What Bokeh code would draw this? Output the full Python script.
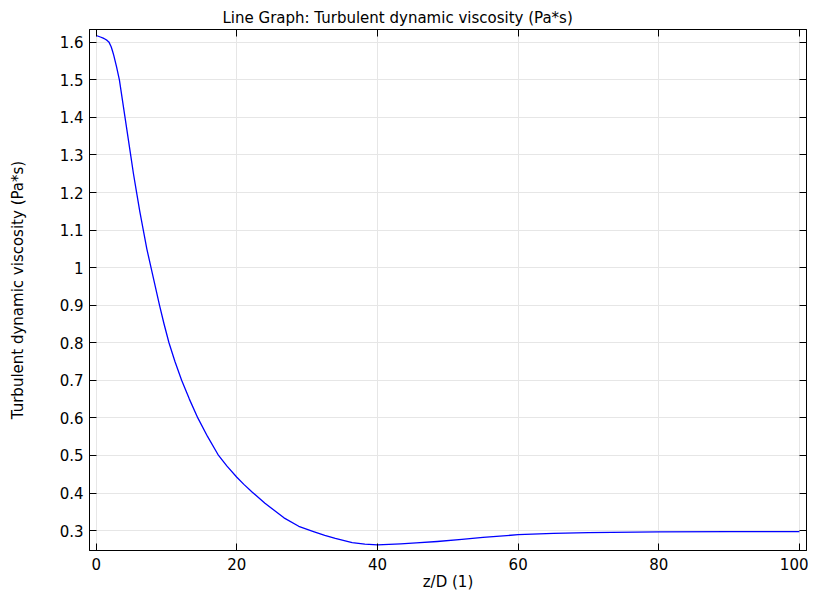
from bokeh.plotting import figure
from bokeh.models import LinearAxis, FixedTicker, CustomJSTickFormatter, Range1d, Title
from bokeh.embed import file_html
from bokeh.resources import INLINE

# data
z_over_d = [0, 0.6, 1.0, 1.3, 1.55, 1.8, 2.13, 2.3, 2.5, 2.89, 3.3, 3.7, 4.1, 4.5, 4.9,
            5.3, 5.75, 6.2, 6.7, 7.2, 7.8, 8.4, 9.0, 9.65, 10.35, 11.2, 12.15, 13.25,
            14.45, 15.85, 17.4, 18.6, 20, 21.0, 22.2, 24, 25.3, 26.7, 28.8, 30.9, 32.5,
            34.0, 36.4, 38.2, 40, 43.3, 45.5, 48.5, 52, 55, 60, 65, 70, 80, 90, 100]
viscosity = [1.618, 1.614, 1.611, 1.608, 1.605, 1.601, 1.588, 1.578, 1.565, 1.535, 1.5,
             1.45, 1.4, 1.35, 1.3, 1.25, 1.2, 1.15, 1.1, 1.05, 1.0, 0.95, 0.9, 0.85, 0.8,
             0.75, 0.7, 0.65, 0.6, 0.55, 0.5, 0.4715, 0.442, 0.423, 0.402, 0.373, 0.354,
             0.334, 0.3115, 0.2975, 0.2875, 0.2795, 0.268, 0.2638, 0.262, 0.2647, 0.2672,
             0.271, 0.2765, 0.282, 0.289, 0.2925, 0.2947, 0.2965, 0.297, 0.297]
x_ticks = [0, 20, 40, 60, 80, 100]
y_ticks = [0.3, 0.4, 0.5, 0.6, 0.7, 0.8, 0.9, 1.0, 1.1, 1.2, 1.3, 1.4, 1.5, 1.6]

FONT = "DejaVu Sans"
FS = "15px"
TXT = "#000000"

p = figure(width=808, height=593, output_backend="svg", toolbar_location=None,
           x_range=Range1d(-0.95, 101.0), y_range=Range1d(0.247, 1.634),
           min_border_left=89, min_border_right=2, min_border_top=29, min_border_bottom=42)
p.title = Title(text="Line Graph: Turbulent dynamic viscosity (Pa*s)", align="left",
                offset=133, text_font=FONT, text_font_size=FS, text_font_style="normal",
                text_color=TXT, standoff=6)
p.outline_line_color = "black"
p.outline_line_width = 1
p.background_fill_color = "white"
p.border_fill_color = "white"

p.line(z_over_d, viscosity, line_color="#0000ff", line_width=1.3, line_join="round")

fmt = CustomJSTickFormatter(code="var s = tick.toFixed(1); return s.endsWith('.0') ? s.slice(0, -2) : s;")
blank = CustomJSTickFormatter(code="return '';")

for ax in p.xaxis:
    ax.ticker = FixedTicker(ticks=x_ticks)
    ax.axis_label = "z/D (1)"
for ax in p.yaxis:
    ax.ticker = FixedTicker(ticks=y_ticks)
    ax.formatter = fmt
    ax.axis_label = "Turbulent dynamic viscosity (Pa*s)"

for ax in p.xaxis + p.yaxis:
    ax.major_tick_in = 7
    ax.major_tick_out = 0
    ax.minor_tick_line_color = None
    ax.axis_line_color = "black"
    ax.major_tick_line_color = "black"
    ax.major_label_text_font = FONT
    ax.major_label_text_font_size = FS
    ax.major_label_text_color = TXT
    ax.axis_label_text_font = FONT
    ax.axis_label_text_font_size = FS
    ax.axis_label_text_font_style = "normal"
    ax.axis_label_text_color = TXT
p.xaxis.major_label_standoff = 7
p.yaxis.major_label_standoff = 6
p.xaxis.axis_label_standoff = 0
p.yaxis.axis_label_standoff = 30

top = LinearAxis(ticker=FixedTicker(ticks=x_ticks), formatter=blank, major_tick_in=7,
                 major_tick_out=0, minor_tick_line_color=None, axis_line_color="black",
                 major_label_standoff=0)
right = LinearAxis(ticker=FixedTicker(ticks=y_ticks), formatter=blank, major_tick_in=7,
                   major_tick_out=0, minor_tick_line_color=None, axis_line_color="black",
                   major_label_standoff=0)
p.add_layout(top, "above")
p.add_layout(right, "right")

p.xgrid.ticker = FixedTicker(ticks=x_ticks)
p.ygrid.ticker = FixedTicker(ticks=y_ticks)
p.grid.grid_line_color = "#e6e6e6"
p.grid.grid_line_width = 1

open("out.html", "w").write(file_html(p, INLINE))
